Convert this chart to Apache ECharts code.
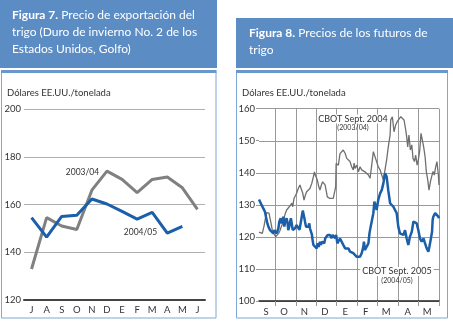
<!DOCTYPE html>
<html>
<head>
<meta charset="utf-8">
<script src="https://cdn.jsdelivr.net/npm/echarts@6/dist/echarts.min.js"></script>
<style>
  html, body { margin: 0; padding: 0; background: #fff; }
  #chart { width: 453px; height: 321px; }
</style>
</head>
<body>
<div id="chart"></div>
<script>
// Figura 7: precio de exportación mensual (J..J)
var months7 = ['J', 'A', 'S', 'O', 'N', 'D', 'E', 'F', 'M', 'A', 'M', 'J']
var exp2003 = [133, 154.5, 151, 149.5, 166, 174, 170.5, 165, 170.5, 171.5, 167, 158]
var exp2004 = [154.5, 146.3, 155, 155.5, 162.3, 160.2, 157.1, 153.9, 156.7, 148, 150.8]
var yTicks7 = [120, 140, 160, 180, 200]

// Figura 8: futuros CBOT, x = mes desde 1 sept (0 = sept)
var months8 = ['S', 'O', 'N', 'D', 'E', 'F', 'M', 'A', 'M']
var monthLabelPos = [0.55, 1.42, 2.42, 3.42, 4.42, 5.42, 6.42, 7.47, 8.42]
var monthStarts = [1, 2, 3, 4, 5, 6, 7, 8, 9]
var cbotSep2004 = [
  [0.2, 121.5], [0.28, 122.1], [0.36, 121.1], [0.44, 123.2], [0.53, 126.3], [0.58, 127.6], [0.62, 127.9],
  [0.69, 127.4], [0.74, 125.8], [0.79, 124.2], [0.85, 122.1], [0.93, 120.9], [1.02, 120.1], [1.1, 120.6],
  [1.16, 121.1], [1.23, 122.1], [1.29, 123.2], [1.36, 124.2], [1.42, 125.8], [1.49, 127.4], [1.55, 128.4],
  [1.62, 128.9], [1.68, 129.4], [1.75, 128.9], [1.81, 130.5], [1.85, 129.4], [1.91, 132.0], [1.96, 132.5],
  [2.04, 133.6], [2.12, 135.1], [2.2, 136.2], [2.29, 135.7], [2.34, 133.6], [2.4, 131.5], [2.47, 133.1],
  [2.53, 134.1], [2.61, 133.6], [2.69, 135.1], [2.78, 136.7], [2.86, 138.8], [2.91, 140.3], [2.95, 139.3],
  [3.02, 138.3], [3.07, 137.2], [3.12, 135.7], [3.18, 134.6], [3.25, 136.2], [3.31, 137.2], [3.38, 137.7],
  [3.43, 136.2], [3.48, 134.6], [3.54, 132.5], [3.61, 132.0], [3.67, 132.0], [3.75, 131.9], [3.83, 132.0],
  [3.92, 132.0], [3.95, 135.7], [3.97, 142.9], [4.03, 143.5], [4.08, 142.4], [4.16, 146.0], [4.24, 145.5],
  [4.32, 147.1], [4.41, 146.1], [4.49, 144.5], [4.57, 144.0], [4.65, 143.5], [4.73, 141.9], [4.81, 140.9],
  [4.85, 143.0], [4.89, 141.4], [4.98, 142.4], [5.06, 140.3], [5.14, 141.9], [5.22, 140.9], [5.3, 141.4],
  [5.38, 140.3], [5.47, 140.9], [5.55, 139.3], [5.63, 138.3], [5.71, 142.4], [5.79, 146.6], [5.87, 146.1],
  [5.95, 143.5], [6.03, 141.9], [6.12, 140.9], [6.2, 139.3], [6.28, 137.8], [6.36, 138.3], [6.44, 144.0],
  [6.52, 148.1], [6.61, 151.8], [6.64, 156.5], [6.72, 157.5], [6.8, 152.8], [6.88, 154.9], [6.96, 156.0],
  [7.05, 156.5], [7.13, 157.5], [7.21, 158.0], [7.29, 156.5], [7.36, 153.9], [7.42, 151.3], [7.47, 148.1],
  [7.53, 151.8], [7.6, 147.1], [7.67, 148.7], [7.73, 144.5], [7.8, 143.5], [7.86, 145.5], [7.93, 142.4],
  [7.99, 144.0], [8.06, 147.1], [8.12, 152.3], [8.19, 151.8], [8.25, 148.1], [8.32, 145.0], [8.38, 140.4],
  [8.45, 137.8], [8.51, 134.6], [8.58, 137.2], [8.64, 138.8], [8.71, 140.4], [8.77, 139.3], [8.84, 141.9],
  [8.9, 143.5], [8.97, 139.3], [9.0, 136.2]
]
var cbotSep2005 = [
  [0.2, 131.7], [0.25, 131.2], [0.33, 129.9], [0.41, 128.9], [0.49, 127.9], [0.54, 126.3], [0.61, 124.2],
  [0.66, 123.2], [0.74, 122.1], [0.82, 121.6], [0.9, 121.1], [0.94, 122.1], [0.98, 121.6], [1.06, 121.1],
  [1.15, 122.7], [1.19, 124.7], [1.26, 125.8], [1.31, 124.2], [1.35, 125.2], [1.39, 126.3], [1.44, 123.2],
  [1.48, 124.7], [1.55, 125.8], [1.6, 124.2], [1.63, 122.1], [1.68, 123.2], [1.72, 124.7], [1.76, 125.8],
  [1.8, 124.2], [1.85, 122.1], [1.91, 121.6], [1.96, 122.7], [2.04, 123.7], [2.12, 123.2], [2.18, 122.2],
  [2.24, 122.7], [2.29, 126.3], [2.34, 128.2], [2.37, 127.9], [2.42, 125.8], [2.45, 124.7], [2.5, 123.2],
  [2.56, 122.7], [2.61, 123.2], [2.66, 124.2], [2.69, 122.7], [2.74, 122.1], [2.79, 120.6], [2.82, 119.0],
  [2.86, 117.5], [2.91, 116.9], [2.95, 117.5], [3.02, 116.4], [3.07, 118.0], [3.12, 116.9], [3.18, 118.5],
  [3.23, 117.5], [3.28, 118.5], [3.35, 119.0], [3.39, 118.0], [3.44, 119.6], [3.51, 120.1], [3.56, 120.6],
  [3.61, 120.1], [3.67, 120.6], [3.75, 119.6], [3.8, 120.6], [3.87, 121.1], [3.92, 119.6], [3.97, 120.6],
  [4.03, 118.0], [4.08, 117.5], [4.16, 119.5], [4.24, 119.0], [4.32, 117.5], [4.41, 116.4], [4.49, 115.9],
  [4.57, 116.4], [4.65, 115.4], [4.73, 115.9], [4.81, 114.9], [4.89, 114.3], [4.98, 113.8], [5.06, 114.3],
  [5.14, 113.8], [5.22, 114.9], [5.3, 116.9], [5.33, 118.5], [5.38, 115.9], [5.47, 115.4], [5.55, 118.0],
  [5.6, 121.1], [5.66, 123.2], [5.71, 122.7], [5.79, 127.4], [5.84, 131.0], [5.89, 129.9], [5.95, 128.4],
  [6.03, 131.5], [6.12, 133.6], [6.2, 134.6], [6.28, 136.7], [6.36, 139.8], [6.44, 138.8], [6.52, 134.5],
  [6.61, 130.5], [6.69, 130.5], [6.77, 129.4], [6.85, 128.4], [6.93, 127.4], [7.01, 123.2], [7.09, 121.1],
  [7.18, 121.1], [7.26, 120.6], [7.34, 122.1], [7.42, 119.5], [7.5, 117.5], [7.58, 120.1], [7.67, 121.6],
  [7.75, 124.8], [7.83, 125.3], [7.91, 124.2], [7.99, 122.1], [8.07, 119.5], [8.15, 118.5], [8.24, 119.5],
  [8.32, 119.0], [8.4, 116.4], [8.48, 115.4], [8.53, 116.9], [8.59, 119.0], [8.66, 121.6], [8.69, 125.3],
  [8.72, 126.3], [8.81, 127.4], [8.89, 126.8], [8.97, 126.3], [9.0, 125.8]
]

var FONT = 'Lato'
var headBlue = '#5b8cc4'
var lineBlue = '#1b5ea9'
var lineGrey = '#808080'

var myChart = echarts.init(document.getElementById('chart'))

var option = {
  backgroundColor: '#fff',
  animation: false,
  textStyle: { fontFamily: FONT },
  graphic: [
    // paneles
    { type: 'rect', shape: { x: 0, y: 0, width: 217, height: 68 }, style: { fill: headBlue } },
    { type: 'rect', shape: { x: 1.5, y: 71.5, width: 214.5, height: 246.5 }, style: { fill: '#fff', stroke: '#7ea6d6', lineWidth: 1 }, z: -10 },
    { type: 'rect', shape: { x: 1, y: 70, width: 215.5, height: 3 }, style: { fill: '#6a97cc' } },
    { type: 'rect', shape: { x: 236, y: 18, width: 217, height: 50 }, style: { fill: headBlue } },
    { type: 'rect', shape: { x: 236.5, y: 71.5, width: 211, height: 246.5 }, style: { fill: '#fff', stroke: '#7ea6d6', lineWidth: 1 }, z: -10 },
    { type: 'rect', shape: { x: 236, y: 70, width: 212, height: 3 }, style: { fill: '#6a97cc' } },
    // títulos
    {
      type: 'text', x: 12, y: 7,
      style: {
        text: '{b|Figura 7.} Precio de exportación del\ntrigo (Duro de invierno No. 2 de los\nEstados Unidos, Golfo)',
        fill: '#fff', font: '12px ' + FONT, lineHeight: 17,
        rich: { b: { fontWeight: 'bold', fill: '#fff', fontSize: 12, fontFamily: FONT, lineHeight: 17 } }
      }
    },
    {
      type: 'text', x: 249, y: 25,
      style: {
        text: '{b|Figura 8.} Precios de los futuros de\ntrigo',
        fill: '#fff', font: '12px ' + FONT, lineHeight: 17,
        rich: { b: { fontWeight: 'bold', fill: '#fff', fontSize: 12, fontFamily: FONT, lineHeight: 17 } }
      }
    },
    // unidades
    { type: 'text', x: 7, y: 93, style: { text: 'Dólares EE.UU./tonelada', fill: '#333', font: '9.5px ' + FONT, verticalAlign: 'middle' } },
    { type: 'text', x: 242, y: 93, style: { text: 'Dólares EE.UU./tonelada', fill: '#333', font: '9.5px ' + FONT, verticalAlign: 'middle' } },
    // anotaciones
    { type: 'text', x: 82.5, y: 172, z: 100, style: { text: '2003/04', fill: '#333', font: '8.5px ' + FONT, align: 'center', verticalAlign: 'middle' } },
    { type: 'text', x: 140.5, y: 232, z: 100, style: { text: '2004/05', fill: '#333', font: '8.5px ' + FONT, align: 'center', verticalAlign: 'middle' } },
    { type: 'text', x: 353, y: 119, z: 100, style: { text: 'CBOT Sept. 2004', fill: '#333', font: '9px ' + FONT, align: 'center', verticalAlign: 'middle', backgroundColor: '#fff', padding: [0, 1] } },
    { type: 'text', x: 353, y: 128, z: 100, style: { text: '(2003/04)', fill: '#333', font: '7px ' + FONT, align: 'center', verticalAlign: 'middle' } },
    { type: 'text', x: 397, y: 271.5, z: 100, style: { text: 'CBOT Sept. 2005', fill: '#333', font: '9px ' + FONT, align: 'center', verticalAlign: 'middle', backgroundColor: '#fff', padding: [0, 2] } },
    { type: 'text', x: 397, y: 281, z: 100, style: { text: '(2004/05)', fill: '#333', font: '7px ' + FONT, align: 'center', verticalAlign: 'middle' } }
  ],
  grid: [
    { left: 24, top: 109, width: 181, height: 191 },
    { left: 259, top: 108.7, width: 180, height: 192.3 }
  ],
  xAxis: [
    {
      gridIndex: 0,
      type: 'category',
      data: months7,
      boundaryGap: true,
      axisLine: { lineStyle: { color: '#444', width: 2 } },
      axisTick: { alignWithLabel: true, inside: true, length: 4, interval: 0, lineStyle: { color: '#444', width: 1.5 } },
      axisLabel: { interval: 0, color: '#333', fontSize: 9.5, margin: 5 },
      splitLine: { show: false }
    },
    {
      gridIndex: 1,
      type: 'value',
      min: 0.2,
      max: 9,
      axisLine: { lineStyle: { color: '#222', width: 1.5 } },
      axisTick: { show: true, customValues: monthStarts, length: 5, lineStyle: { color: '#999' } },
      splitLine: { show: true, lineStyle: { color: '#999', width: 1 } },
      axisLabel: {
        customValues: monthLabelPos,
        color: '#333',
        fontSize: 9.5,
        margin: 6,
        formatter: function(v) {
          return months8[Math.floor(v)]
        }
      }
    }
  ],
  yAxis: [
    {
      gridIndex: 0,
      type: 'value',
      min: yTicks7[0],
      max: yTicks7[yTicks7.length - 1],
      interval: 20,
      axisLine: { show: false },
      axisTick: { show: false },
      axisLabel: { color: '#333', fontSize: 9.5, margin: 3 },
      splitLine: { lineStyle: { color: '#b0b0b0', width: 1.2 } }
    },
    {
      gridIndex: 1,
      type: 'value',
      min: 100,
      max: 160,
      interval: 10,
      axisLine: { show: false },
      axisTick: { show: true, length: 3, lineStyle: { color: '#999' } },
      axisLabel: { color: '#333', fontSize: 9.5, margin: 4 },
      splitLine: { lineStyle: { color: '#999', width: 1 } }
    }
  ],
  series: [
    {
      name: '2003/04', type: 'line', xAxisIndex: 0, yAxisIndex: 0,
      data: exp2003, showSymbol: false, symbol: 'none',
      lineStyle: { color: lineGrey, width: 3 }
    },
    {
      name: '2004/05', type: 'line', xAxisIndex: 0, yAxisIndex: 0,
      data: exp2004, showSymbol: false, symbol: 'none',
      lineStyle: { color: lineBlue, width: 3 }
    },
    {
      name: 'CBOT Sept. 2004', type: 'line', xAxisIndex: 1, yAxisIndex: 1,
      data: cbotSep2004, showSymbol: false, symbol: 'none',
      lineStyle: { color: '#6f6f6f', width: 1.3 }
    },
    {
      name: 'CBOT Sept. 2005', type: 'line', xAxisIndex: 1, yAxisIndex: 1,
      data: cbotSep2005, showSymbol: false, symbol: 'none',
      lineStyle: { color: lineBlue, width: 2.5 }
    }
  ]
}

myChart.setOption(option)
window.addEventListener('resize', function() {
  myChart.resize()
})
</script>
</body>
</html>
